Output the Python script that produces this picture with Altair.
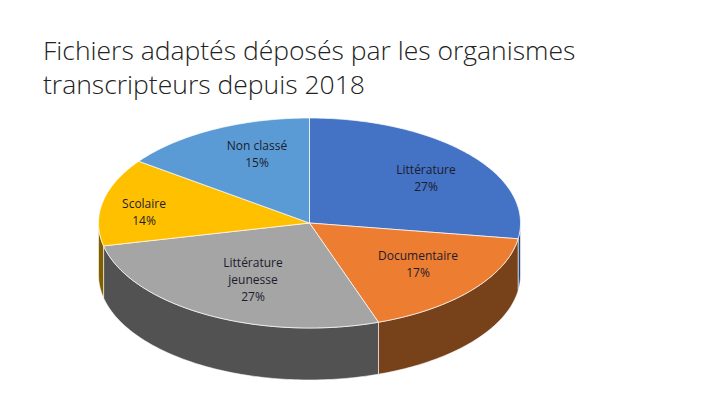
import math
import altair as alt
import pandas as pd

categories = ["Littérature", "Documentaire", "Littérature\njeunesse", "Scolaire", "Non classé"]
values = [27.4, 17.3, 26.8, 13.5, 15.0]
top_colors = ["#4472C4", "#ED7D31", "#A5A5A5", "#FFC000", "#5B9BD5"]
side_colors = ["#264478", "#77411A", "#525252", "#7F6000", "#2F5B82"]
label_x = [426, 418, 253, 144, 257]
label_y = [169, 255, 262, 203, 145]
title_lines = ["Fichiers adaptés déposés par les organismes", "transcripteurs depuis 2018"]

CX, CY, A, B, DEPTH = 309.5, 222, 211, 105, 52


def pt(deg, dz=0):
    r = math.radians(deg)
    return CX + A * math.sin(r), CY - B * math.cos(r) + dz


tops, sides = [], []
cum = 0
for i, v in enumerate(values):
    a0, a1 = cum * 3.6, (cum + v) * 3.6
    cum += v
    key = f"s{i}"
    steps = max(2, int(a1 - a0))
    arc = [a0 + (a1 - a0) * k / steps for k in range(steps + 1)]
    poly = [(CX, CY)] + [pt(t) for t in arc]
    for j, (x, y) in enumerate(poly):
        tops.append({"key": key, "i": j, "x": x, "y": y})
    lo, hi = max(a0, 90), min(a1, 270)
    if hi > lo:
        n = max(2, int(hi - lo))
        vis = [lo + (hi - lo) * k / n for k in range(n + 1)]
        ring = [pt(t) for t in vis] + [pt(t, DEPTH) for t in reversed(vis)]
        for j, (x, y) in enumerate(ring):
            sides.append({"key": key, "i": j, "x": x, "y": y})

xs = alt.Scale(domain=[8, 712], range=[0, 704])
ys = alt.Scale(domain=[110, 397], range=[0, 287])
X = alt.X("x:Q", scale=xs, axis=None)
Y = alt.Y("y:Q", scale=ys, axis=None)
keys = [f"s{i}" for i in range(len(values))]


def layer(rows, colors, sw):
    return alt.Chart(pd.DataFrame(rows)).mark_line(
        filled=True, interpolate="linear-closed", stroke="white", strokeWidth=sw
    ).encode(
        x=X, y=Y, order="i:Q",
        fill=alt.Fill("key:N", scale=alt.Scale(domain=keys, range=colors), legend=None),
        detail="key:N",
    )


labels = pd.DataFrame({
    "t": [f"{c}\n{round(v)}%" for c, v in zip(categories, values)],
    "x": label_x, "y": label_y,
})
text = alt.Chart(labels).mark_text(
    font="Open Sans", fontSize=12, fontWeight=500, color="#1c1c2c", lineBreak="\n", lineHeight=17,
    align="center", baseline="middle"
).encode(x=X, y=Y, text="t:N")

chart = alt.layer(layer(sides, side_colors, 0.6), layer(tops, top_colors, 0.7), text).resolve_scale(
    fill="independent"
).properties(
    width=704, height=287,
    padding={"left": 0, "right": 0, "top": 31, "bottom": 0},
    autosize=alt.AutoSizeParams(type="pad"),
    title=alt.TitleParams(
        text=title_lines, anchor="start", frame="group", dx=35, offset=12,
        font="Open Sans", fontSize=26.5, fontWeight=300, color="#222222", lineHeight=33.5,
    ),
).configure_view(stroke=None)

chart.save("out.html", embed_options={"renderer": "svg", "actions": False})
